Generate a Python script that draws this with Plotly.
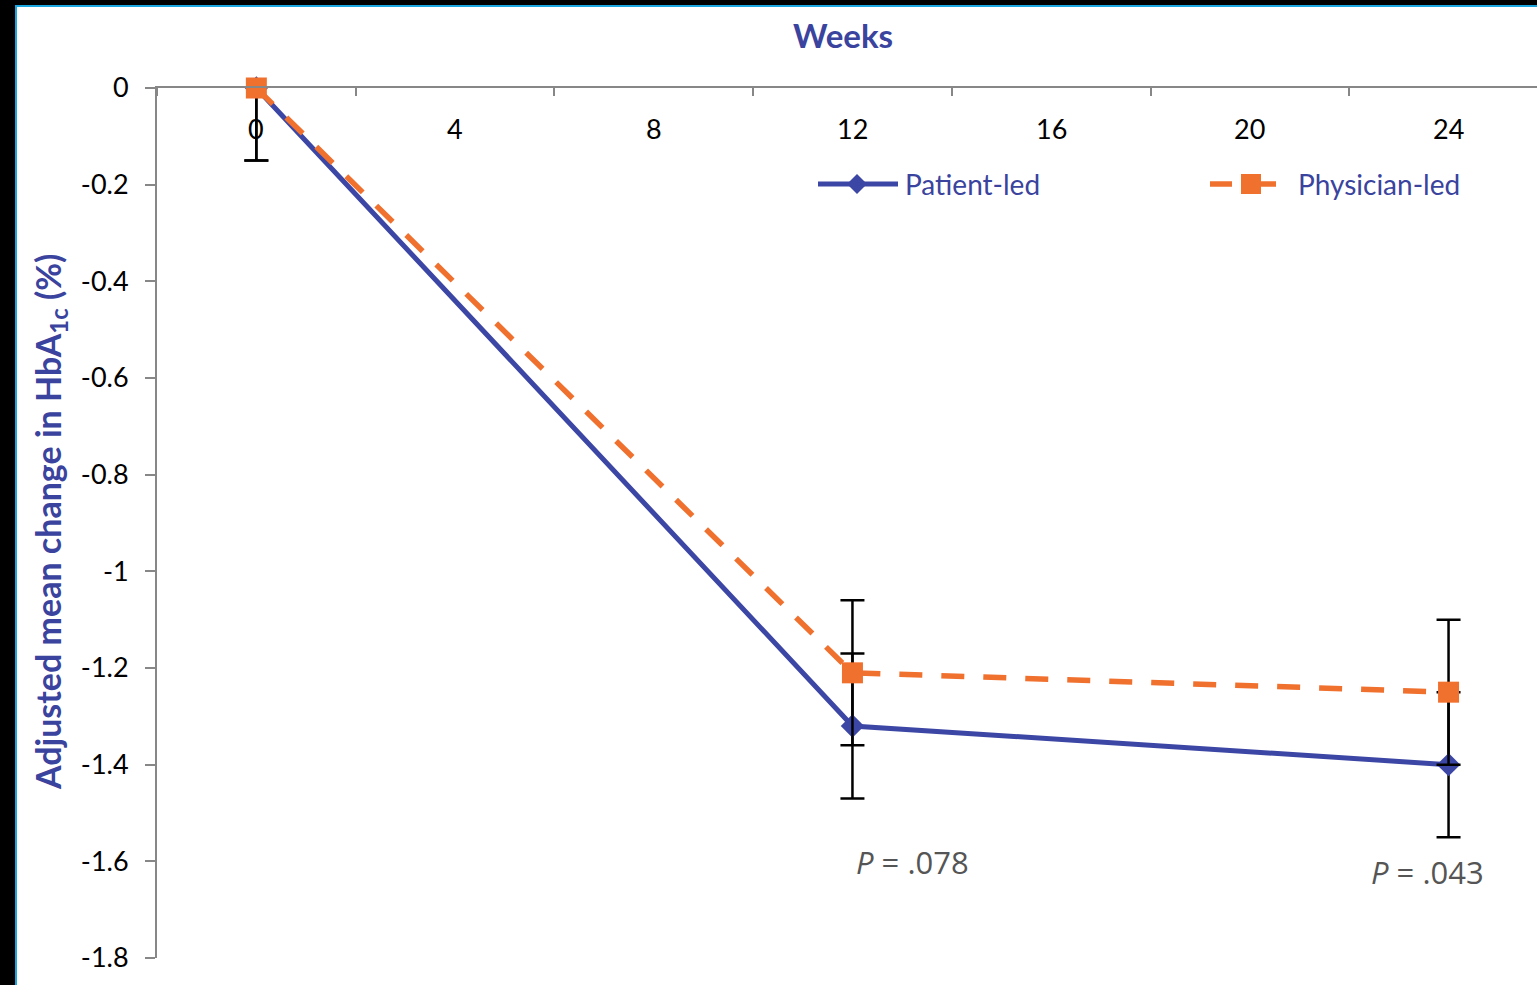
import plotly.graph_objects as go

# Study visits (weeks) and adjusted mean change in HbA1c (%)
weeks = [0, 12, 24]
patient_led = [0.0, -1.32, -1.40]
physician_led = [0.0, -1.21, -1.25]
patient_err = [0.15, 0.15, 0.15]
physician_err = [0.15, 0.15, 0.15]

x_tick_vals = [0, 4, 8, 12, 16, 20, 24]
x_tick_text = ["0", "4", "8", "12", "16", "20", "24"]
x_minor_ticks = [-2, 2, 6, 10, 14, 18, 22]
y_tick_vals = [0, -0.2, -0.4, -0.6, -0.8, -1.0, -1.2, -1.4, -1.6, -1.8]
y_tick_text = ["0", "-0.2", "-0.4", "-0.6", "-0.8", "-1", "-1.2", "-1.4", "-1.6", "-1.8"]

p_values = [".078", ".043"]
p_positions = [(12.03, -1.601), (22.40, -1.622)]

BLUE = "#3C46A4"
ORANGE = "#F0702E"
TEXT_BLUE = "#3A439E"
AXIS_GREY = "#878787"
FONT = "Lato, 'Open Sans', sans-serif"

W, H = 1537, 985
ML, MR, MT, MB = 157, 0, 88, 27
X0, X1 = -2, -2 + (W - ML - MR) / 49.675
Y0, Y1 = -1.8, 0.0

def px_to_x(px):
    return X0 + (px - ML) / (W - ML - MR) * (X1 - X0)

def py_to_y(py):
    return Y1 - (py - MT) / (H - MT - MB) * (Y1 - Y0)

def dx(px):
    return px / (W - ML - MR) * (X1 - X0)

def dy(py):
    return py / (H - MT - MB) * (Y1 - Y0)

fig = go.Figure()

fig.add_trace(go.Scatter(
    x=weeks, y=patient_led, name="Patient-led", mode="lines+markers",
    line=dict(color=BLUE, width=5),
    marker=dict(symbol="diamond", size=18, color=BLUE),
    error_y=dict(type="data", array=patient_err, color="black", thickness=2.5, width=12),
    cliponaxis=False, showlegend=False,
))
fig.add_trace(go.Scatter(
    x=weeks, y=physician_led, name="Physician-led", mode="lines+markers",
    line=dict(color=ORANGE, width=5.5, dash="23px,19px"),
    marker=dict(symbol="square", size=21, color=ORANGE),
    error_y=dict(type="data", array=physician_err, color="black", thickness=2.5, width=12),
    cliponaxis=False, showlegend=False,
))

# Week labels sit just under the top axis line
for v, t in zip(x_tick_vals, x_tick_text):
    fig.add_annotation(x=v, y=0, xref="x", yref="y", xanchor="center", yanchor="middle",
                       yshift=-40, text=t, showarrow=False,
                       font=dict(family=FONT, size=27, color="black"))

# P-value annotations
for (px_, py_), pv in zip(p_positions, p_values):
    fig.add_annotation(
        x=px_, y=py_, xref="x", yref="y", xanchor="left", yanchor="middle",
        text=f"<i>P</i> = {pv}", showarrow=False,
        font=dict(family="'Open Sans', sans-serif", size=31, color="#555555"),
    )

# Legend drawn as glyph shapes plus text
shapes = []
# white canvas with cyan edge on the black frame
shapes.append(dict(type="rect", xref="paper", yref="paper", layer="below",
                   x0=(16 - ML) / (W - ML - MR), x1=1.05,
                   y0=-0.1, y1=1 + (MT - 6) / (H - MT - MB),
                   fillcolor="white", line=dict(color="#1BA6E0", width=2)))

ly = py_to_y(184)
shapes.append(dict(type="line", xref="x", yref="y", x0=px_to_x(818), x1=px_to_x(898),
                   y0=ly, y1=ly, line=dict(color=BLUE, width=5)))
cx = px_to_x(857)
hw, hh = dx(10), dy(10)
shapes.append(dict(type="path", xref="x", yref="y",
                   path=f"M {cx-hw},{ly} L {cx},{ly+hh} L {cx+hw},{ly} L {cx},{ly-hh} Z",
                   fillcolor=BLUE, line=dict(color=BLUE, width=0)))
shapes.append(dict(type="line", xref="x", yref="y", x0=px_to_x(1210), x1=px_to_x(1232),
                   y0=ly, y1=ly, line=dict(color=ORANGE, width=5.5)))
shapes.append(dict(type="line", xref="x", yref="y", x0=px_to_x(1258), x1=px_to_x(1276),
                   y0=ly, y1=ly, line=dict(color=ORANGE, width=5.5)))
sx = px_to_x(1251)
shapes.append(dict(type="rect", xref="x", yref="y",
                   x0=sx - dx(10), x1=sx + dx(10), y0=ly - dy(10), y1=ly + dy(10),
                   fillcolor=ORANGE, line=dict(color=ORANGE, width=0)))

fig.add_annotation(x=px_to_x(903), y=ly, xref="x", yref="y", xanchor="left", yanchor="middle",
                   text="Patient-led", showarrow=False, font=dict(family=FONT, size=28, color=TEXT_BLUE))
fig.add_annotation(x=px_to_x(1296), y=ly, xref="x", yref="y", xanchor="left", yanchor="middle",
                   text="Physician-led", showarrow=False, font=dict(family=FONT, size=28, color=TEXT_BLUE))

# Axis titles
fig.add_annotation(x=(843 - ML) / (W - ML - MR), y=1 + (MT - 35) / (H - MT - MB),
                   xref="paper", yref="paper", xanchor="center", yanchor="middle",
                   text="<b>Weeks</b>", showarrow=False, font=dict(family=FONT, size=33, color=TEXT_BLUE))
fig.add_annotation(x=(50 - ML) / (W - ML - MR), y=(H - MB - 522) / (H - MT - MB),
                   xref="paper", yref="paper", xanchor="center", yanchor="middle", textangle=-90,
                   text="<b>Adjusted mean change in HbA<sub>1c</sub> (%)</b>", showarrow=False,
                   font=dict(family=FONT, size=34, color=TEXT_BLUE))

fig.update_layout(
    width=W, height=H,
    margin=dict(l=ML, r=MR, t=MT, b=MB, pad=0),
    paper_bgcolor="black", plot_bgcolor="white",
    shapes=shapes,
    showlegend=False,
    xaxis=dict(
        range=[X0, X1], side="top", showline=True, linecolor=AXIS_GREY, linewidth=2,
        showgrid=False, zeroline=False,
        tickmode="array", tickvals=x_tick_vals, ticktext=x_tick_text,
        ticks="", showticklabels=False,
        minor=dict(tickvals=x_minor_ticks, ticks="inside", ticklen=8, tickwidth=2,
                   tickcolor=AXIS_GREY, showgrid=False),
    ),
    yaxis=dict(
        range=[Y0, Y1], showline=True, linecolor=AXIS_GREY, linewidth=2,
        showgrid=False, zeroline=False,
        tickmode="array", tickvals=y_tick_vals, ticktext=y_tick_text,
        ticks="outside", ticklen=10, tickwidth=2, tickcolor=AXIS_GREY,
        ticklabelstandoff=11,
        tickfont=dict(family=FONT, size=27, color="black"),
    ),
)

fig.write_html("out.html")
